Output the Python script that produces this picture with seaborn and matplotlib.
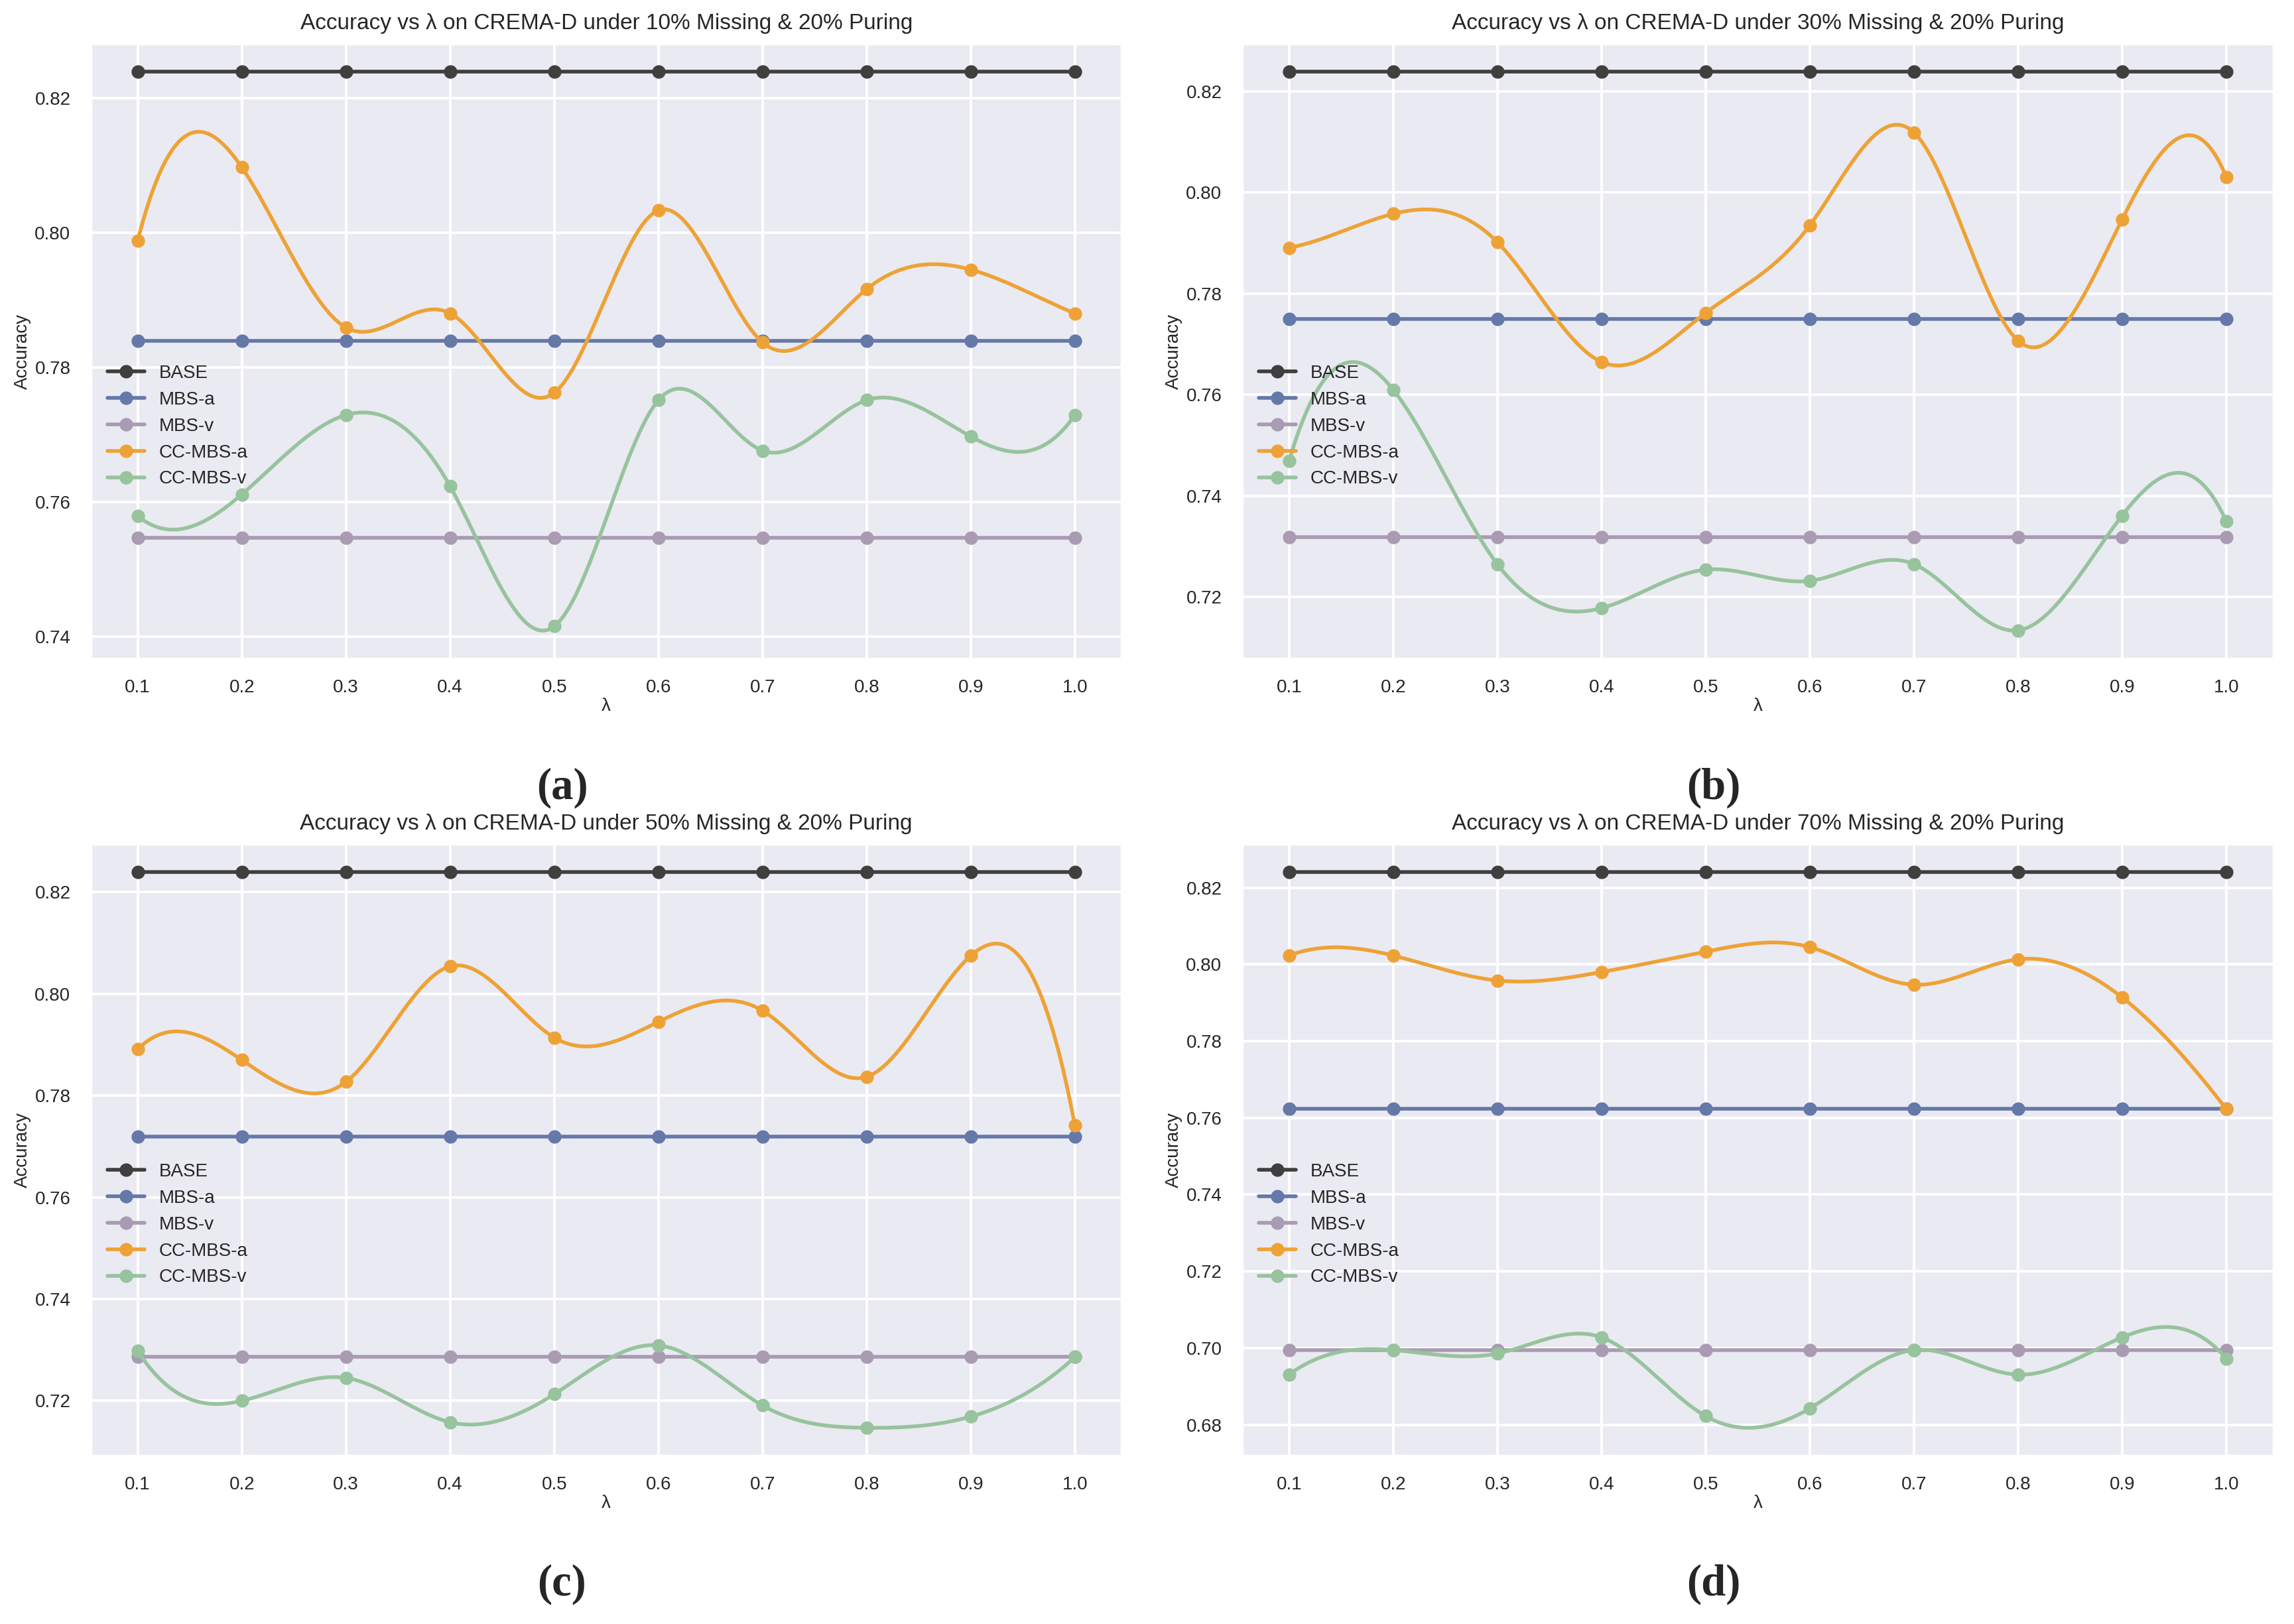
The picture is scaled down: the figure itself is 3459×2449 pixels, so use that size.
import numpy as np
import pandas as pd
import matplotlib
matplotlib.use("Agg")
import matplotlib.pyplot as plt
import seaborn as sns

# ---------------- data ----------------
lambdas = [0.1, 0.2, 0.3, 0.4, 0.5, 0.6, 0.7, 0.8, 0.9, 1.0]
series_names = ["BASE", "MBS-a", "MBS-v", "CC-MBS-a", "CC-MBS-v"]
missing_rates = ["10%", "30%", "50%", "70%"]
panel_labels = ["(a)", "(b)", "(c)", "(d)"]

# panel (a): 10% missing
base_a = [0.8239] * 10
mbs_a_a = [0.7839] * 10
mbs_v_a = [0.7546] * 10
cc_a_a = [0.7988, 0.8097, 0.7859, 0.7880, 0.7762, 0.8033, 0.7837, 0.7916, 0.7945, 0.7880]
cc_v_a = [0.7579, 0.7611, 0.7729, 0.7623, 0.7415, 0.7751, 0.7676, 0.7751, 0.7697, 0.7729]

# panel (b): 30% missing
base_b = [0.8239] * 10
mbs_a_b = [0.7750] * 10
mbs_v_b = [0.7318] * 10
cc_a_b = [0.7891, 0.7958, 0.7902, 0.7665, 0.7762, 0.7935, 0.8119, 0.7707, 0.7947, 0.8031]
cc_v_b = [0.7469, 0.7610, 0.7265, 0.7178, 0.7254, 0.7232, 0.7265, 0.7134, 0.7361, 0.7350]

# panel (c): 50% missing
base_c = [0.8239] * 10
mbs_a_c = [0.7719] * 10
mbs_v_c = [0.7286] * 10
cc_a_c = [0.7891, 0.7870, 0.7827, 0.8054, 0.7914, 0.7945, 0.7967, 0.7837, 0.8075, 0.7741]
cc_v_c = [0.7298, 0.7200, 0.7245, 0.7158, 0.7213, 0.7309, 0.7191, 0.7147, 0.7169, 0.7286]

# panel (d): 70% missing
base_d = [0.8240] * 10
mbs_a_d = [0.7623] * 10
mbs_v_d = [0.6995] * 10
cc_a_d = [0.8023, 0.8023, 0.7958, 0.7980, 0.8033, 0.8045, 0.7947, 0.8013, 0.7914, 0.7623]
cc_v_d = [0.6931, 0.6995, 0.6986, 0.7028, 0.6823, 0.6843, 0.6995, 0.6931, 0.7028, 0.6973]

panels = [
    [base_a, mbs_a_a, mbs_v_a, cc_a_a, cc_v_a],
    [base_b, mbs_a_b, mbs_v_b, cc_a_b, cc_v_b],
    [base_c, mbs_a_c, mbs_v_c, cc_a_c, cc_v_c],
    [base_d, mbs_a_d, mbs_v_d, cc_a_d, cc_v_d],
]

colors = ["#3f3f3f", "#6479a8", "#a99bb2", "#eea236", "#97c39d"]


def not_a_knot_spline(x, y, xs):
    """Cubic interpolating spline with not-a-knot end conditions."""
    x = np.asarray(x, float)
    y = np.asarray(y, float)
    n = len(x)
    h = np.diff(x)
    A = np.zeros((n, n))
    b = np.zeros(n)
    A[0, 0] = -h[1]
    A[0, 1] = h[0] + h[1]
    A[0, 2] = -h[0]
    for i in range(1, n - 1):
        A[i, i - 1] = h[i - 1]
        A[i, i] = 2 * (h[i - 1] + h[i])
        A[i, i + 1] = h[i]
        b[i] = 6 * ((y[i + 1] - y[i]) / h[i] - (y[i] - y[i - 1]) / h[i - 1])
    A[n - 1, n - 3] = -h[n - 2]
    A[n - 1, n - 2] = h[n - 3] + h[n - 2]
    A[n - 1, n - 1] = -h[n - 3]
    M = np.linalg.solve(A, b)
    idx = np.clip(np.searchsorted(x, xs, side="right") - 1, 0, n - 2)
    x0 = x[idx]
    x1 = x[idx + 1]
    hh = h[idx]
    out = (M[idx] * (x1 - xs) ** 3 / (6 * hh)
           + M[idx + 1] * (xs - x0) ** 3 / (6 * hh)
           + (y[idx] / hh - M[idx] * hh / 6) * (x1 - xs)
           + (y[idx + 1] / hh - M[idx + 1] * hh / 6) * (xs - x0))
    return out


sns.set_theme(style="darkgrid")
plt.rcParams["font.family"] = ["Liberation Sans", "DejaVu Sans"]
plt.rcParams["grid.linewidth"] = 1.4

W, H, DPI = 3459, 2449, 200
fig = plt.figure(figsize=(W / DPI, H / DPI), dpi=DPI)

lefts = [0.0396, 0.5415]
axw = 0.4494
bottoms = [0.5945, 0.1037]
heights = [0.973 - 0.5945, 0.480 - 0.1037]

SUB = 50
xs = np.linspace(lambdas[0], lambdas[-1], (len(lambdas) - 1) * SUB + 1)

for k in range(4):
    r, c = divmod(k, 2)
    ax = fig.add_axes([lefts[c], bottoms[r], axw, heights[r]])
    for name, vals, col in zip(series_names, panels[k], colors):
        ys = not_a_knot_spline(lambdas, vals, xs)
        df = pd.DataFrame({"x": xs, "y": ys})
        sns.lineplot(data=df, x="x", y="y", ax=ax, color=col, linewidth=2.0,
                     marker="o", markersize=7.3, markeredgewidth=0,
                     markevery=SUB, label=name, estimator=None, sort=False)
    ax.set_xticks(lambdas)
    ax.set_xticklabels([f"{v:.1f}" for v in lambdas])
    ax.tick_params(labelsize=10, pad=5)
    ax.set_title(f"Accuracy vs λ on CREMA-D under {missing_rates[k]} Missing & 20% Puring",
                 fontsize=12, pad=8)
    ax.set_xlabel("λ", fontsize=10, labelpad=1)
    ax.set_ylabel("Accuracy", fontsize=10, labelpad=2)
    ax.legend(loc="center left", bbox_to_anchor=(0.0, 0.378), frameon=False,
              fontsize=10, handlelength=2.0)
    yl = [0.515, 0.0245][r]
    xl = [0.245, 0.747][c]
    fig.text(xl, yl, panel_labels[k], ha="center", va="center",
             fontsize=24, fontweight="bold", family=["Liberation Serif", "DejaVu Serif"])

fig.savefig("out.png", dpi=DPI, facecolor="white")
